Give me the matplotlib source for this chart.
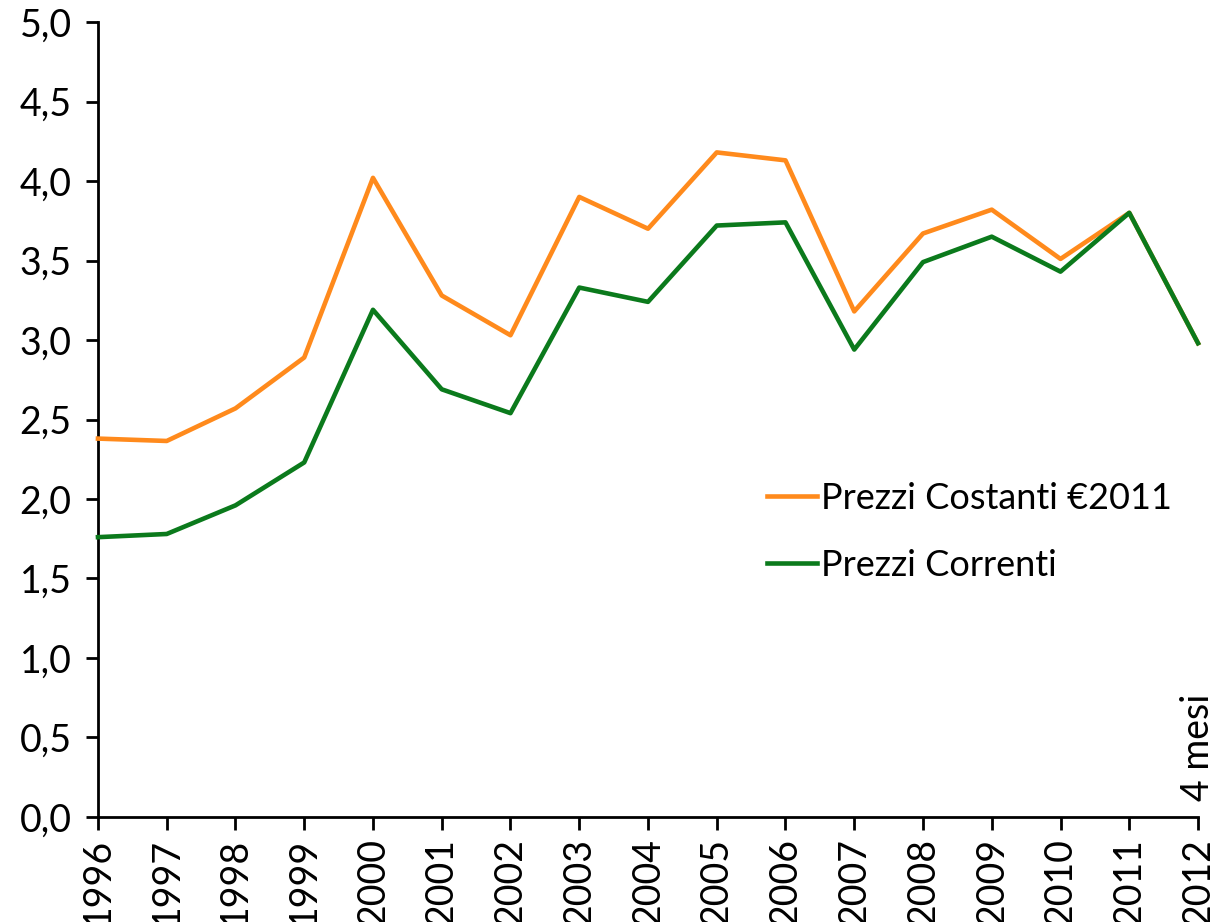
import matplotlib
matplotlib.use("Agg")
import matplotlib.pyplot as plt

years = [1996, 1997, 1998, 1999, 2000, 2001, 2002, 2003, 2004, 2005, 2006,
         2007, 2008, 2009, 2010, 2011, 2012]
costanti = [2.38, 2.365, 2.57, 2.89, 4.02, 3.28, 3.03, 3.90, 3.70, 4.18, 4.13,
            3.18, 3.67, 3.82, 3.51, 3.80, 2.98]
correnti = [1.76, 1.78, 1.96, 2.23, 3.19, 2.69, 2.54, 3.33, 3.24, 3.72, 3.74,
            2.94, 3.49, 3.65, 3.43, 3.80, 2.98]
yticks = [0.0, 0.5, 1.0, 1.5, 2.0, 2.5, 3.0, 3.5, 4.0, 4.5, 5.0]
label_costanti = "Prezzi Costanti €2011"
label_correnti = "Prezzi Correnti"
note = "4 mesi"

plt.rcParams['font.family'] = ['Lato', 'DejaVu Sans']

fig = plt.figure(figsize=(12.17, 9.22), dpi=100)
ax = fig.add_axes([0.0805, 0.1139, 0.9039, 0.8622])

orange = '#FF8A1C'
green = '#0B7A1C'
ax.plot(years, costanti, color=orange, lw=3.3, label=label_costanti, clip_on=False, zorder=3)
ax.plot(years, correnti, color=green, lw=3.3, label=label_correnti, clip_on=False, zorder=4)

ax.set_xlim(1996, 2012)
ax.set_ylim(0, 5)
ax.set_xticks(years)
ax.set_xticklabels([str(y) for y in years], rotation=90, fontsize=27)
ax.set_yticks(yticks)
ax.set_yticklabels([f"{v:.1f}".replace('.', ',') for v in yticks], fontsize=27)

for s in ['top', 'right']:
    ax.spines[s].set_visible(False)
for s in ['left', 'bottom']:
    ax.spines[s].set_linewidth(2)
ax.tick_params(axis='both', direction='out', length=9, width=2, colors='black')
ax.tick_params(axis='y', pad=10)
ax.tick_params(axis='x', pad=6)

ax.text(2012, 0.1, note, rotation=90, ha='center', va='bottom', fontsize=27)

leg = ax.legend(loc='upper left', bbox_to_anchor=(0.595, 0.44), frameon=False,
                fontsize=26, handlelength=1.4, handletextpad=0.1, labelspacing=0.95,
                borderaxespad=0)

fig.savefig('out.png', dpi=100)
